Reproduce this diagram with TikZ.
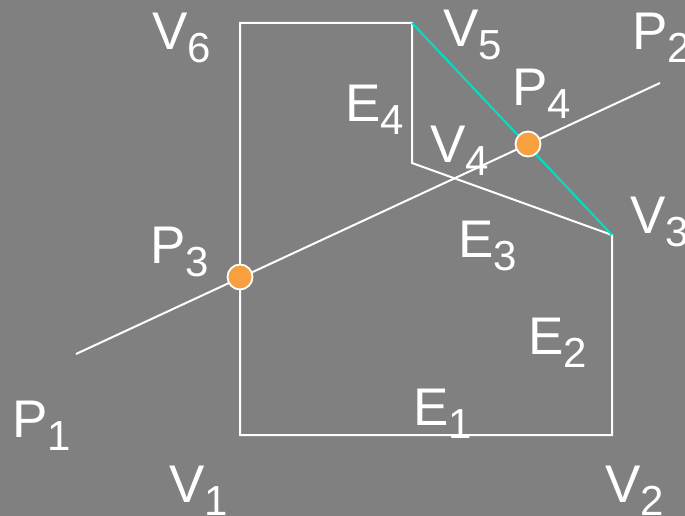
\documentclass[tikz,border=0pt]{standalone}
\usepackage{fontspec}
\setmainfont{Liberation Sans}
\usetikzlibrary{positioning}
\definecolor{bggray}{HTML}{808080}
\definecolor{edgecyan}{HTML}{00E0C4}
\definecolor{dotorange}{HTML}{F8A040}
\newcommand\vlabel[2]{#1\raisebox{-13pt}{\fontsize{42}{42}\selectfont #2}}

\begin{document}
\begin{tikzpicture}[
  x=1pt, y=-1pt,
  edge/.style={draw=white, line width=2pt},
  clipedge/.style={draw=edgecyan, line width=2pt},
  hit/.style={circle, fill=dotorange, draw=white, line width=1.8pt, minimum size=25pt, inner sep=0pt},
  tag/.style={anchor=base west, inner sep=0pt, text=white, font=\fontsize{53}{60}\selectfont}
]

  \fill[bggray] (0,0) rectangle (685,516);
  \useasboundingbox (0,0) rectangle (685,516);

  % Polygon vertices
  \coordinate (v1) at (240,435);
  \coordinate (v2) at (612,435);
  \coordinate (v3) at (612,235);
  \coordinate (v4) at (412,163);
  \coordinate (v5) at (412,23);
  \coordinate (v6) at (240,23);

  % Line end points
  \coordinate (p1) at (76,354);
  \coordinate (p2) at (660,83);

  \draw[edge, line join=miter] (v1) -- (v2) -- (v3) -- (v4) -- (v5) -- (v6) -- cycle;
  \draw[clipedge] (v5) -- (v3);
  \draw[edge] (p1) -- (p2);

  % Intersection points
  \node[hit] (p3) at (240,277) {};
  \node[hit] (p4) at (528,144) {};

  % Labels
  \node[tag] (lv1) at (169,502) {\vlabel{V}{1}};
  \node[tag] (lv2) at (605,502) {\vlabel{V}{2}};
  \node[tag] (lv3) at (630,233) {\vlabel{V}{3}};
  \node[tag] (lv4) at (430,162) {\vlabel{V}{4}};
  \node[tag] (lv5) at (443,47) {\vlabel{V}{5}};
  \node[tag] (lv6) at (152,50) {\vlabel{V}{6}};
  \node[tag] (le1) at (413,425) {\vlabel{E}{1}};
  \node[tag] (le2) at (528,354) {\vlabel{E}{2}};
  \node[tag] (le3) at (458,257) {\vlabel{E}{3}};
  \node[tag] (le4) at (345,122) {\vlabel{E}{4}};
  \node[tag] (lp1) at (12,437) {\vlabel{P}{1}};
  \node[tag] (lp2) at (632,50) {\vlabel{P}{2}};
  \node[tag] (lp3) at (150,263) {\vlabel{P}{3}};
  \node[tag] (lp4) at (512,106) {\vlabel{P}{4}};

\end{tikzpicture}
\end{document}
